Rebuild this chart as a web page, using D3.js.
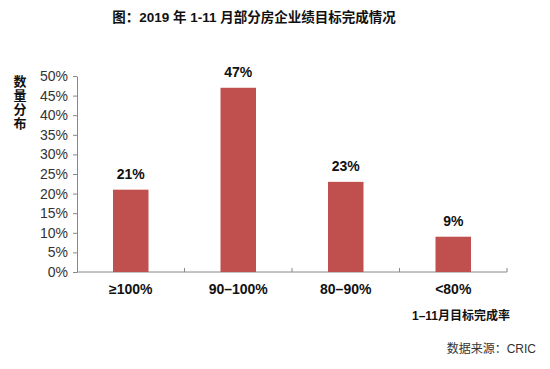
<!DOCTYPE html>
<meta charset="utf-8" />
<title>2019年1-11月部分房企业绩目标完成情况</title>
<script src="https://d3js.org/d3.v7.min.js"></script>
<style>
  body { margin: 0; background: #fff; }
  text { font-family: Arial, "Liberation Sans", "Noto Sans CJK SC", sans-serif; }
</style>
<body>
<svg id="chart" width="550" height="369"></svg>
<script>
  // chart data
  var categories = ["≥100%", "90–100%", "80–90%", "<80%"];
  var shares     = [0.21, 0.47, 0.23, 0.09];
  var valueLabels = ["21%", "47%", "23%", "9%"];
  var yTicks     = [0, 0.05, 0.10, 0.15, 0.20, 0.25, 0.30, 0.35, 0.40, 0.45, 0.50];

  var svg = d3.select("#chart");
  // plot edges (note: "top" would clash with window.top)
  var plotLeft = 77, plotRight = 507, plotTop = 76, plotBottom = 272;

  var x = d3.scaleBand().domain(categories).range([plotLeft, plotRight]).paddingInner(0.67).paddingOuter(0.335);
  var xBand = d3.scaleBand().domain(categories).range([plotLeft, plotRight]);
  var y = d3.scaleLinear().domain([0, 0.5]).range([plotBottom, plotTop]);

  // title
  svg.append("text")
    .attr("x", 254).attr("y", 22)
    .attr("text-anchor", "middle")
    .style("font-size", "13.5px").style("font-weight", "bold").attr("fill", "#111")
    .text("图：2019 年 1-11 月部分房企业绩目标完成情况");

  // y axis
  var yAxis = d3.axisLeft(y).tickValues(yTicks).tickFormat(d3.format(".0%")).tickSize(4).tickSizeOuter(0);
  var gy = svg.append("g").attr("transform", "translate(" + plotLeft + ",0)").call(yAxis);
  gy.select(".domain").attr("stroke", "#888");
  gy.selectAll(".tick line").attr("stroke", "#888");
  gy.selectAll(".tick text").attr("x", -9).attr("fill", "#333")
    .style("font-size", "14px").style("font-family", "Arial, 'Liberation Sans', sans-serif");

  // x axis (category separators)
  svg.append("line").attr("x1", plotLeft).attr("x2", plotRight).attr("y1", plotBottom).attr("y2", plotBottom).attr("stroke", "#888");
  svg.selectAll(".sep").data(categories).enter().append("line")
    .attr("class", "sep")
    .attr("x1", function(d) { return xBand(d) + xBand.bandwidth(); })
    .attr("x2", function(d) { return xBand(d) + xBand.bandwidth(); })
    .attr("y1", plotBottom).attr("y2", plotBottom - 4)
    .attr("stroke", "#888");

  // bars
  svg.selectAll(".bar").data(shares).enter().append("rect")
    .attr("class", "bar")
    .attr("x", function(d, i) { return x(categories[i]); })
    .attr("width", x.bandwidth())
    .attr("y", function(d) { return y(d); })
    .attr("height", function(d) { return plotBottom - y(d); })
    .attr("fill", "#C0504D");

  // value labels
  svg.selectAll(".val").data(shares).enter().append("text")
    .attr("class", "val")
    .attr("x", function(d, i) { return x(categories[i]) + x.bandwidth() / 2; })
    .attr("y", function(d) { return y(d) - 11; })
    .attr("text-anchor", "middle")
    .style("font-size", "14px").style("font-weight", "bold").attr("fill", "#111")
    .text(function(d, i) { return valueLabels[i]; });

  // category labels
  svg.selectAll(".cat").data(categories).enter().append("text")
    .attr("class", "cat")
    .attr("x", function(d) { return x(d) + x.bandwidth() / 2; })
    .attr("y", 294)
    .attr("text-anchor", "middle")
    .style("font-size", "14px").style("font-weight", "bold").attr("fill", "#111")
    .text(function(d) { return d; });

  // y axis title, stacked vertically
  var yTitle = "数量分布".split("");
  svg.selectAll(".ytitle").data(yTitle).enter().append("text")
    .attr("class", "ytitle")
    .attr("x", 20)
    .attr("y", function(d, i) { return 86 + i * 14; })
    .attr("text-anchor", "middle")
    .style("font-size", "13px").style("font-weight", "bold").attr("fill", "#111")
    .text(function(d) { return d; });

  // x axis title
  svg.append("text")
    .attr("x", 510).attr("y", 320)
    .attr("text-anchor", "end")
    .style("font-size", "12px").style("font-weight", "bold").attr("fill", "#111")
    .text("1–11月目标完成率");

  // source
  svg.append("text")
    .attr("x", 536).attr("y", 353)
    .attr("text-anchor", "end")
    .style("font-size", "12px").attr("fill", "#333")
    .text("数据来源：CRIC");
</script>
</body>
